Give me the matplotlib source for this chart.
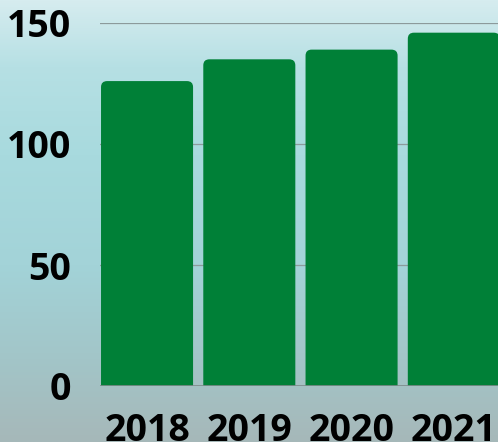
import numpy as np
import matplotlib
matplotlib.use("Agg")
import matplotlib.pyplot as plt
from matplotlib.patches import FancyBboxPatch
from matplotlib.colors import LinearSegmentedColormap

years = ["2018", "2019", "2020", "2021"]
values = [126, 135, 139, 146]
yticks = [0, 50, 100, 150]

W, H = 498, 442
fig = plt.figure(figsize=(W / 100, H / 100), dpi=100)

# background gradient (approximating the water photo)
bg = fig.add_axes([0, 0, 1, 1], zorder=-10)
cmap = LinearSegmentedColormap.from_list(
    "water",
    [(0.0, "#d6ecef"), (0.15, "#b6e0e4"), (0.35, "#a8dade"),
     (0.6, "#a3d3d8"), (0.8, "#a2c6c9"), (1.0, "#a6b8b9")])
grad = np.linspace(0, 1, 256).reshape(-1, 1)
bg.imshow(grad, aspect="auto", cmap=cmap, extent=[0, 1, 0, 1], origin="upper")
bg.axis("off")

left, right, top, bottom = 100, 552, 23, 386
ax = fig.add_axes([left / W, (H - bottom) / H, (right - left) / W, (bottom - top) / H])
ax.patch.set_alpha(0)

x = np.arange(len(years))
bars = ax.bar(x, values, width=0.9, color="#008037", zorder=3)
rx = 0.06
ry = 6 / 2.42
for b in bars:
    b.set_visible(False)
    p = FancyBboxPatch((b.get_x(), -10), b.get_width(), b.get_height() + 10,
                       boxstyle=f"round,pad=0,rounding_size={rx}",
                       mutation_aspect=ry / rx,
                       facecolor="#008037", edgecolor="none", zorder=3)
    ax.add_patch(p)

ax.set_xlim(-0.46, 3.96)
ax.set_ylim(0, 150)
ax.set_yticks(yticks)
ax.set_xticks(x)
ax.set_xticklabels(years)
ax.yaxis.grid(True, color="#8c9a9b", linewidth=0.9, zorder=0)
ax.axhline(0, color="#7f8c8c", linewidth=1.2, zorder=4)
for s in ax.spines.values():
    s.set_visible(False)
ax.tick_params(axis="both", length=0)
ax.tick_params(axis="y", pad=21)
ax.tick_params(axis="x", pad=19)
for lbl in ax.get_xticklabels() + ax.get_yticklabels():
    lbl.set_fontfamily("Open Sans")
    lbl.set_fontweight("bold")
    lbl.set_fontsize(27)
    lbl.set_color("#000000")

fig.savefig("out.png", dpi=100)
